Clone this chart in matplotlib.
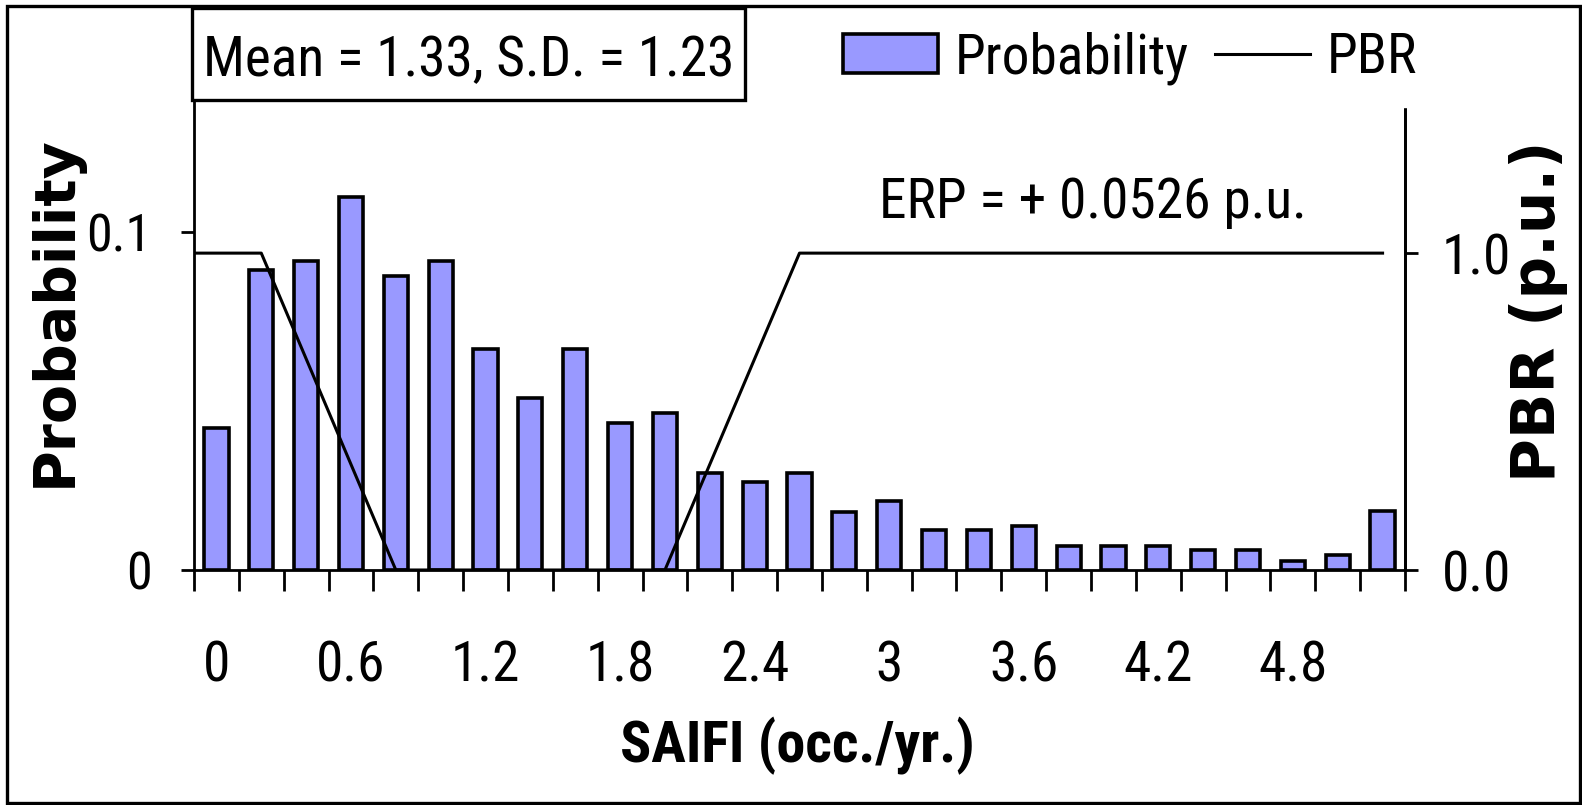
import matplotlib
matplotlib.use("Agg")
import matplotlib.pyplot as plt
from matplotlib import font_manager
from matplotlib.font_manager import FontProperties
from matplotlib.patches import Rectangle, Patch
from matplotlib.lines import Line2D

# datos
saifi = [0.0, 0.2, 0.4, 0.6, 0.8, 1.0, 1.2, 1.4, 1.6, 1.8, 2.0, 2.2, 2.4, 2.6,
         2.8, 3.0, 3.2, 3.4, 3.6, 3.8, 4.0, 4.2, 4.4, 4.6, 4.8, 5.0, 5.2]
probabilidad = [0.0421, 0.0887, 0.0914, 0.1104, 0.0870, 0.0914, 0.0654, 0.0509,
                0.0654, 0.0435, 0.0464, 0.0288, 0.0259, 0.0288, 0.0172, 0.0203,
                0.0118, 0.0118, 0.0131, 0.0072, 0.0072, 0.0072, 0.0058, 0.0058,
                0.0027, 0.0043, 0.0174]
pbr_x = [-0.1, 0.2, 0.8, 2.0, 2.6, 5.2]
pbr_y = [1.0, 1.0, 0.0, 0.0, 1.0, 1.0]
xtick_vals = [0, 0.6, 1.2, 1.8, 2.4, 3.0, 3.6, 4.2, 4.8]
xtick_labels = ["0", "0.6", "1.2", "1.8", "2.4", "3", "3.6", "4.2", "4.8"]


def _peso(f):
    w = f.weight
    if isinstance(w, str):
        w = font_manager.weight_dict.get(w, 400)
    return w


def buscar_estrecha(negrita):
    """Busca una fuente sans estrecha (tipo Arial Narrow) si hay alguna"""
    orden = ["Liberation Sans Narrow", "Arial Narrow", "Roboto Condensed",
             "Noto Sans", "Open Sans", "DejaVu Sans", "Roboto", "Lato"]
    objetivo = 700 if negrita else 400
    mejor = None
    for f in font_manager.fontManager.ttflist:
        nombre = f.name
        estrecha = ("Narrow" in nombre or "Condensed" in nombre
                    or str(f.stretch) in ("condensed", "semi-condensed"))
        if not estrecha or f.style != "normal":
            continue
        if "Mono" in nombre or "Serif" in nombre or "CJK" in nombre:
            continue
        pref = len(orden)
        for i, o in enumerate(orden):
            if nombre.startswith(o):
                pref = i
                break
        clave = (abs(_peso(f) - objetivo), pref)
        if mejor is None or clave < mejor[0]:
            mejor = (clave, f.fname)
    if mejor is not None and mejor[0][0] <= 100:
        return mejor[1]
    return None


REG = buscar_estrecha(False)
BOLD = buscar_estrecha(True)


def fuente(size, negrita=False):
    fn = BOLD if negrita else REG
    if fn:
        return FontProperties(fname=fn, size=size)
    return FontProperties(family=["Liberation Sans", "DejaVu Sans"],
                          weight="bold" if negrita else "normal", size=size)


W, H = 1582, 805
fig = plt.figure(figsize=(W / 100, H / 100), dpi=100)
renderer = fig.canvas.get_renderer()


def ajustar(texto, ancho_px, max_pt, negrita=False):
    t = fig.text(0, 0, texto, fontproperties=fuente(20, negrita))
    w = t.get_window_extent(renderer).width
    t.remove()
    return min(max_pt, 20 * ancho_px / w)


fs = ajustar("Mean = 1.33, S.D. = 1.23", 531, 43)
fs_x = ajustar("SAIFI (occ./yr.)", 356, 48, negrita=True)

ax = fig.add_axes([194 / W, 1 - 570 / H, (1405 - 194) / W, (570 - 63) / H])

ax.bar(saifi, probabilidad, width=0.108, color="#9999FF", edgecolor="black",
       linewidth=2.6, zorder=2)
ax.set_xlim(-0.1, 5.3)
ax.set_ylim(0, 0.15)

ax2 = ax.twinx()
ax2.plot(pbr_x, pbr_y, color="black", linewidth=2.2, zorder=3)
ax2.set_ylim(0, 1.6)

for a in (ax, ax2):
    a.spines["top"].set_visible(False)
    for s in a.spines.values():
        s.set_linewidth(2.0)
ax2.spines["left"].set_visible(False)
ax2.spines["bottom"].set_visible(False)

# eje x: marcas entre barras, etiquetas cada 0.6
ax.set_xticks([-0.1 + 0.2 * i for i in range(28)], minor=True)
ax.set_xticks(xtick_vals)
ax.set_xticklabels(xtick_labels, fontproperties=fuente(fs))
ax.tick_params(axis="x", which="minor", length=15, width=2.0, direction="out")
ax.tick_params(axis="x", which="major", length=0, pad=50)

ax.set_yticks([0, 0.1])
ax.set_yticklabels(["0", "0.1"], fontproperties=fuente(fs * 0.94))
ax.tick_params(axis="y", length=9.5, width=2.0, direction="out", pad=21)

ax2.set_yticks([0, 1.0])
ax2.set_yticklabels(["0.0", "1.0"], fontproperties=fuente(fs))
ax2.tick_params(axis="y", length=9.5, width=2.0, direction="out", pad=17)

# titulos de ejes
fig.text(55 / W, 1 - 311 / H, "Probability", rotation=90, ha="center",
         va="center", fontsize=41, fontweight="bold", family="DejaVu Sans")
fig.text(1538 / W, 1 - 311 / H, "PBR (p.u.)", rotation=90, ha="center",
         va="center", fontsize=43, fontweight="bold", family="DejaVu Sans")
fig.text(797 / W, 1 - 762 / H, "SAIFI (occ./yr.)", ha="center",
         va="baseline", fontproperties=fuente(fs_x, True))

fig.text(1093 / W, 1 - 218 / H, "ERP = + 0.0526 p.u.", ha="center",
         va="baseline", fontproperties=fuente(fs))

# caja con media y desviacion
caja = Rectangle((192 / W, 1 - 100 / H), 553 / W, 92 / H,
                 transform=fig.transFigure, facecolor="white",
                 edgecolor="black", linewidth=2.4, zorder=10)
fig.add_artist(caja)
fig.text(469 / W, 1 - 76 / H, "Mean = 1.33, S.D. = 1.23", ha="center",
         va="baseline", fontproperties=fuente(fs), zorder=11)

# leyenda
handles = [Patch(facecolor="#9999FF", edgecolor="black", linewidth=2.6),
           Line2D([], [], color="black", linewidth=2.2)]
leg = fig.legend(handles, ["Probability", "PBR"], loc="center",
                 bbox_to_anchor=(1130 / W, 1 - 58 / H), ncol=2,
                 prop=fuente(fs), frameon=True, facecolor="white",
                 edgecolor="white", framealpha=1, fancybox=False,
                 handlelength=95 / (fs * 100 / 72), handleheight=0.7,
                 handletextpad=0.3, columnspacing=0.47, borderpad=0.4)
leg.set_zorder(10)

# marco exterior
marco = Rectangle((7 / W, 1 - 803 / H), 1573 / W, 797 / H,
                  transform=fig.transFigure, facecolor="none",
                  edgecolor="black", linewidth=2.4, zorder=12)
fig.add_artist(marco)

fig.savefig("out.png", dpi=100)
